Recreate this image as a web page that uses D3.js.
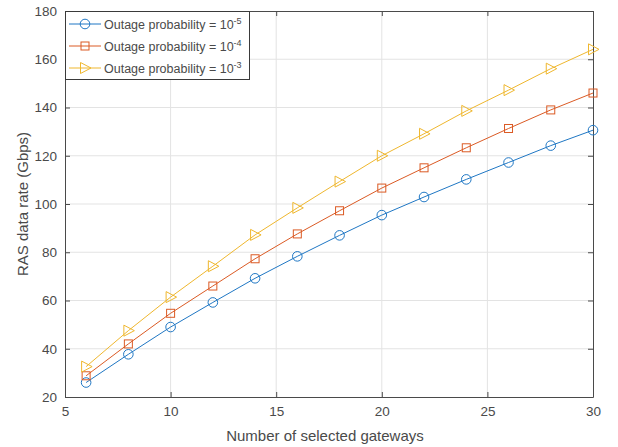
<!DOCTYPE html>
<html>
<head>
<meta charset="utf-8">
<script src="https://cdn.jsdelivr.net/npm/d3@7"></script>
<style>
  html, body { margin: 0; padding: 0; background: #fff; }
  svg { display: block; font-family: "Liberation Sans", Arial, Helvetica, sans-serif; }
</style>
</head>
<body>
<svg id="chart" width="618" height="447"></svg>
<script>
// Number of selected gateways
const gateways = [6, 8, 10, 12, 14, 16, 18, 20, 22, 24, 26, 28, 30];

// RAS data rate (Gbps) for each outage probability
const rateP5 = [26, 37.7, 49, 59.2, 69.2, 78.3, 87, 95.4, 102.9, 110.2, 117.2, 124.2, 130.6];
const rateP4 = [28.8, 42, 54.7, 66, 77.3, 87.6, 97.2, 106.6, 115, 123.3, 131.3, 139, 146];
const rateP3 = [32.6, 47.5, 61.4, 74.2, 87.2, 98.4, 109.3, 120, 129.1, 138.6, 147.2, 156.1, 164.1];

const seriesExponents = ["-5", "-4", "-3"];
const xTicks = [5, 10, 15, 20, 25, 30];
const yTicks = [20, 40, 60, 80, 100, 120, 140, 160, 180];

const series = [
  { exp: seriesExponents[0], values: rateP5, color: "#1f77c4", marker: "circle" },
  { exp: seriesExponents[1], values: rateP4, color: "#db5a24", marker: "square" },
  { exp: seriesExponents[2], values: rateP3, color: "#efb72e", marker: "triangle" }
];

const svg = d3.select("#chart");
const m = { left: 65, right: 593, top: 11, bottom: 397 };

const x = d3.scaleLinear().domain([5, 30]).range([m.left, m.right]);
const y = d3.scaleLinear().domain([20, 180]).range([m.bottom, m.top]);

const axisColor = "#4a4a4a";
const textColor = "#4a4a4a";

// grid
const grid = svg.append("g");
grid.selectAll(".gx").data(xTicks.slice(1, -1)).enter().append("line")
  .attr("x1", d => x(d)).attr("x2", d => x(d))
  .attr("y1", m.top).attr("y2", m.bottom)
  .attr("stroke", "#e3e3e3").attr("stroke-width", 1);
grid.selectAll(".gy").data(yTicks.slice(1, -1)).enter().append("line")
  .attr("y1", d => y(d)).attr("y2", d => y(d))
  .attr("x1", m.left).attr("x2", m.right)
  .attr("stroke", "#e3e3e3").attr("stroke-width", 1);

// axes (ticks pointing inward on all four sides)
function styleAxis(g) {
  g.select(".domain").attr("stroke", axisColor);
  g.selectAll(".tick line").attr("stroke", axisColor);
  g.selectAll(".tick text").attr("fill", textColor).attr("font-size", "13.5px")
    .attr("font-family", "Liberation Sans, Arial, sans-serif");
}

svg.append("g").attr("transform", `translate(0,${m.bottom})`)
  .call(d3.axisBottom(x).tickValues(xTicks).tickSizeInner(-5).tickSizeOuter(0).tickPadding(9))
  .call(styleAxis);
svg.append("g").attr("transform", `translate(0,${m.top})`)
  .call(d3.axisTop(x).tickValues(xTicks).tickSizeInner(-5).tickSizeOuter(0).tickFormat(""))
  .call(styleAxis);
svg.append("g").attr("transform", `translate(${m.left},0)`)
  .call(d3.axisLeft(y).tickValues(yTicks).tickSizeInner(-5).tickSizeOuter(0).tickPadding(8))
  .call(styleAxis);
svg.append("g").attr("transform", `translate(${m.right},0)`)
  .call(d3.axisRight(y).tickValues(yTicks).tickSizeInner(-5).tickSizeOuter(0).tickFormat(""))
  .call(styleAxis);

// axis titles
svg.append("text")
  .attr("x", (m.left + m.right) / 2 - 4).attr("y", 441)
  .attr("text-anchor", "middle").attr("fill", textColor).attr("font-size", "15px")
  .text("Number of selected gateways");
svg.append("text")
  .attr("transform", `translate(28,${(m.top + m.bottom) / 2}) rotate(-90)`)
  .attr("text-anchor", "middle").attr("fill", textColor).attr("font-size", "15px")
  .text("RAS data rate (Gbps)");

// markers
function drawMarker(g, type, cx, cy, color) {
  if (type === "circle") {
    g.append("circle").attr("cx", cx).attr("cy", cy).attr("r", 4.8)
      .attr("fill", "none").attr("stroke", color).attr("stroke-width", 1);
  } else if (type === "square") {
    g.append("rect").attr("x", cx - 4).attr("y", cy - 4).attr("width", 8).attr("height", 8)
      .attr("fill", "none").attr("stroke", color).attr("stroke-width", 1);
  } else {
    g.append("path")
      .attr("d", `M${cx - 4.5},${cy - 5.5}L${cx + 6},${cy}L${cx - 4.5},${cy + 5.5}Z`)
      .attr("fill", "none").attr("stroke", color).attr("stroke-width", 1);
  }
}

const line = d3.line().x(d => x(d[0])).y(d => y(d[1]));
series.forEach(s => {
  const pts = gateways.map((g, i) => [g, s.values[i]]);
  const g = svg.append("g");
  g.append("path").datum(pts).attr("d", line)
    .attr("fill", "none").attr("stroke", s.color).attr("stroke-width", 1);
  pts.forEach(p => drawMarker(g, s.marker, x(p[0]), y(p[1]), s.color));
});

// legend
const lg = svg.append("g");
lg.append("rect").attr("x", m.left + 0.5).attr("y", m.top + 0.5)
  .attr("width", 184).attr("height", 68)
  .attr("fill", "#fff").attr("stroke", "#3a3a3a").attr("stroke-width", 1);
series.forEach((s, i) => {
  const cy = 24 + i * 22;
  lg.append("line").attr("x1", 69).attr("x2", 101).attr("y1", cy).attr("y2", cy)
    .attr("stroke", s.color).attr("stroke-width", 1);
  drawMarker(lg, s.marker, 85, cy, s.color);
  const t = lg.append("text").attr("x", 104).attr("y", cy + 5)
    .attr("fill", textColor).attr("font-size", "12.5px");
  t.append("tspan").text("Outage probability = 10");
  t.append("tspan").attr("dy", -5).attr("font-size", "9px").text(s.exp);
});
</script>
</body>
</html>
